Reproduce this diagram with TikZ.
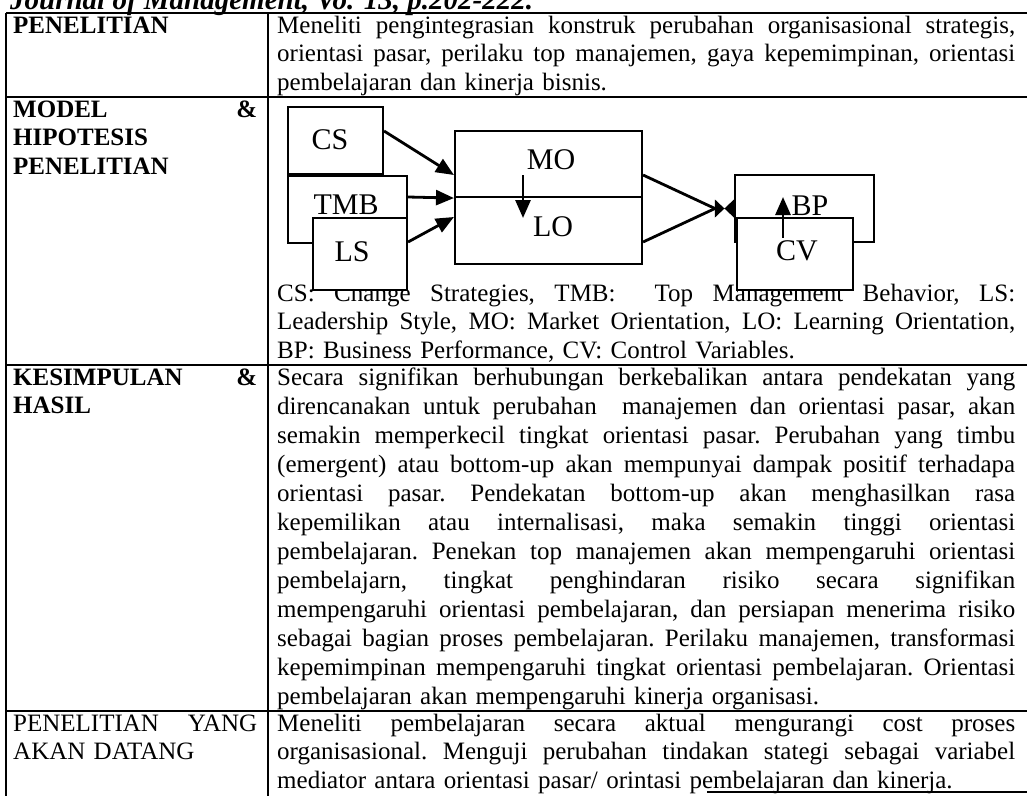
\documentclass[tikz,border=0pt]{standalone}
\usepackage{fontspec}
\setmainfont{Liberation Serif}
\newfontfamily\diagfont{Liberation Serif}
\usetikzlibrary{arrows.meta}

% full-width justified lines of the two table columns
\newcommand\spreadspaces{\spaceskip=\fontdimen2\font plus 1fil\relax
  \xspaceskip=\fontdimen2\font plus 1fil\relax}
\newcommand\jr[1]{{\spreadspaces\makebox[738pt][s]{#1}}}
\newcommand\jl[1]{{\spreadspaces\makebox[244pt][s]{#1}}}

\tikzset{
  tblrule/.style={line width=2.1pt},
  txtcell/.style={anchor=base west, inner sep=0pt, align=left,
                  font=\fontsize{25}{28.5}\selectfont\frenchspacing},
  hcell/.style={txtcell, text width=244pt,
                font=\fontsize{25}{28.5}\selectfont\frenchspacing\bfseries},
  lcell/.style={txtcell, text width=244pt},
  bcell/.style={txtcell, text width=738pt},
  widecell/.style={bcell, font=\fontsize{25}{29}\selectfont\frenchspacing},
  vbox/.style={draw, line width=2.1pt, fill=white, inner sep=0pt},
  vname/.style={inner sep=0pt, font=\diagfont\fontsize{30}{34}\selectfont},
  vlink/.style={line width=2.8pt},
  varrow/.style={vlink, -{Triangle[length=18pt,width=15pt]}},
}

\begin{document}
\begin{tikzpicture}[x=1pt,y=-1pt]
\useasboundingbox (0,0) rectangle (1027,796);
\clip (0,0) rectangle (1027,796);

% source line above the table (cut by the page edge)
\node[anchor=base west, inner sep=0pt, font=\fontsize{29}{32}\selectfont\bfseries\itshape]
  (src) at (10,9) {Journal of Management, Vo. 13, p.202-222.};

% table rules
\draw[tblrule] (6,13) -- (1027,13);
\draw[tblrule] (6,97) -- (1027,97);
\draw[tblrule] (6,365) -- (1027,365);
\draw[tblrule] (6,711) -- (1027,711);
\draw[tblrule] (707,792) -- (1027,792);
\draw[tblrule] (6,13) -- (6,796);
\draw[tblrule] (268,13) -- (268,796);

% row 1
\node[hcell] (h1) at (13,33) {PENELITIAN};
\node[bcell] (t1) at (277,33) {%
\jr{Meneliti pengintegrasian konstruk perubahan organisasional strategis,}\\
\jr{orientasi pasar, perilaku top manajemen, gaya kepemimpinan, orientasi}\\
pembelajaran dan kinerja bisnis.};

% row 2
\node[hcell] (h2) at (13,117) {\jl{MODEL \&}\\ HIPOTESIS\\ PENELITIAN};
\node[bcell] (t2) at (277,301) {%
\jr{CS: Change Strategies, TMB:\ \ Top Management Behavior, LS:}\\
\jr{Leadership Style, MO: Market Orientation, LO: Learning Orientation,}\\
BP: Business Performance, CV: Control Variables.};

% research model
\node[vbox, minimum width=95pt, minimum height=67pt] (cs) at (335.5,140.5) {};
\node[vbox, minimum width=119pt, minimum height=67pt] (tmb) at (347.5,209.5) {};
\node[vbox, minimum width=94pt, minimum height=72pt] (ls) at (360,254) {};
\node[vbox, minimum width=187pt, minimum height=66pt] (mo) at (548.5,164) {};
\node[vbox, minimum width=187pt, minimum height=67pt] (lo) at (548.5,230.5) {};
\node[vbox, minimum width=139pt, minimum height=67pt] (bp) at (804.5,208.5) {};
\node[vbox, minimum width=116pt, minimum height=72pt] (cv) at (795,254) {};

\node[vname] (csn) at (330,140) {CS};
\node[vname] (tmbn) at (346,205) {TMB};
\node[vname] (lsn) at (352,252) {LS};
\node[vname] (mon) at (551,160) {MO};
\node[vname] (lon) at (553,227) {LO};
\node[vname] (bpn) at (810,206) {BP};
\node[vname] (cvn) at (797,251) {CV};

\draw[varrow] ([yshift=9.5pt]cs.east) -- ([yshift=-11pt]mo.west);
\draw[varrow] ([yshift=12.5pt]tmb.east) -- (mo.south west);
\draw[varrow] ([yshift=12pt]ls.east) -- ([yshift=13.5pt]lo.west);
\draw[varrow] ([xshift=-25.5pt,yshift=-11pt]mo.center) -- ([xshift=-25.5pt,yshift=12.5pt]lo.center);

\coordinate (join) at ([xshift=-19pt]bp.west);
\draw[vlink] ([yshift=-11pt]mo.east) -- (join);
\draw[vlink] ([yshift=-11.5pt]lo.east) -- (join);
\fill (join) ++(0,-9) -- ++(19,18) -- ++(0,-18) -- ++(-19,18) -- cycle;

\draw[varrow] ([xshift=-12pt,yshift=16.5pt]cv.center) -- ([xshift=-21.5pt,yshift=11.5pt]bp.center);

% row 3
\node[hcell] (h3) at (13,385) {\jl{KESIMPULAN \&}\\ HASIL};
\node[widecell] (t3) at (277,385) {%
\jr{Secara signifikan berhubungan berkebalikan antara pendekatan yang}\\
\jr{direncanakan untuk perubahan\ \ manajemen dan orientasi pasar, akan}\\
\jr{semakin memperkecil tingkat orientasi pasar. Perubahan yang timbu}\\
\jr{(emergent) atau bottom-up akan mempunyai dampak positif terhadapa}\\
\jr{orientasi pasar. Pendekatan bottom-up akan menghasilkan rasa}\\
\jr{kepemilikan atau internalisasi, maka semakin tinggi orientasi}\\
\jr{pembelajaran. Penekan top manajemen akan mempengaruhi orientasi}\\
\jr{pembelajarn, tingkat penghindaran risiko secara signifikan}\\
\jr{mempengaruhi orientasi pembelajaran, dan persiapan menerima risiko}\\
\jr{sebagai bagian proses pembelajaran. Perilaku manajemen, transformasi}\\
\jr{kepemimpinan mempengaruhi tingkat orientasi pembelajaran. Orientasi}\\
pembelajaran akan mempengaruhi kinerja organisasi.};

% row 4
\node[lcell] (h4) at (13,731) {\jl{PENELITIAN YANG}\\ AKAN DATANG};
\node[bcell] (t4) at (277,731) {%
\jr{Meneliti pembelajaran secara aktual mengurangi cost proses}\\
\jr{organisasional. Menguji perubahan tindakan stategi sebagai variabel}\\
mediator antara orientasi pasar/ orintasi pembelajaran dan kinerja.};
\end{tikzpicture}
\end{document}
